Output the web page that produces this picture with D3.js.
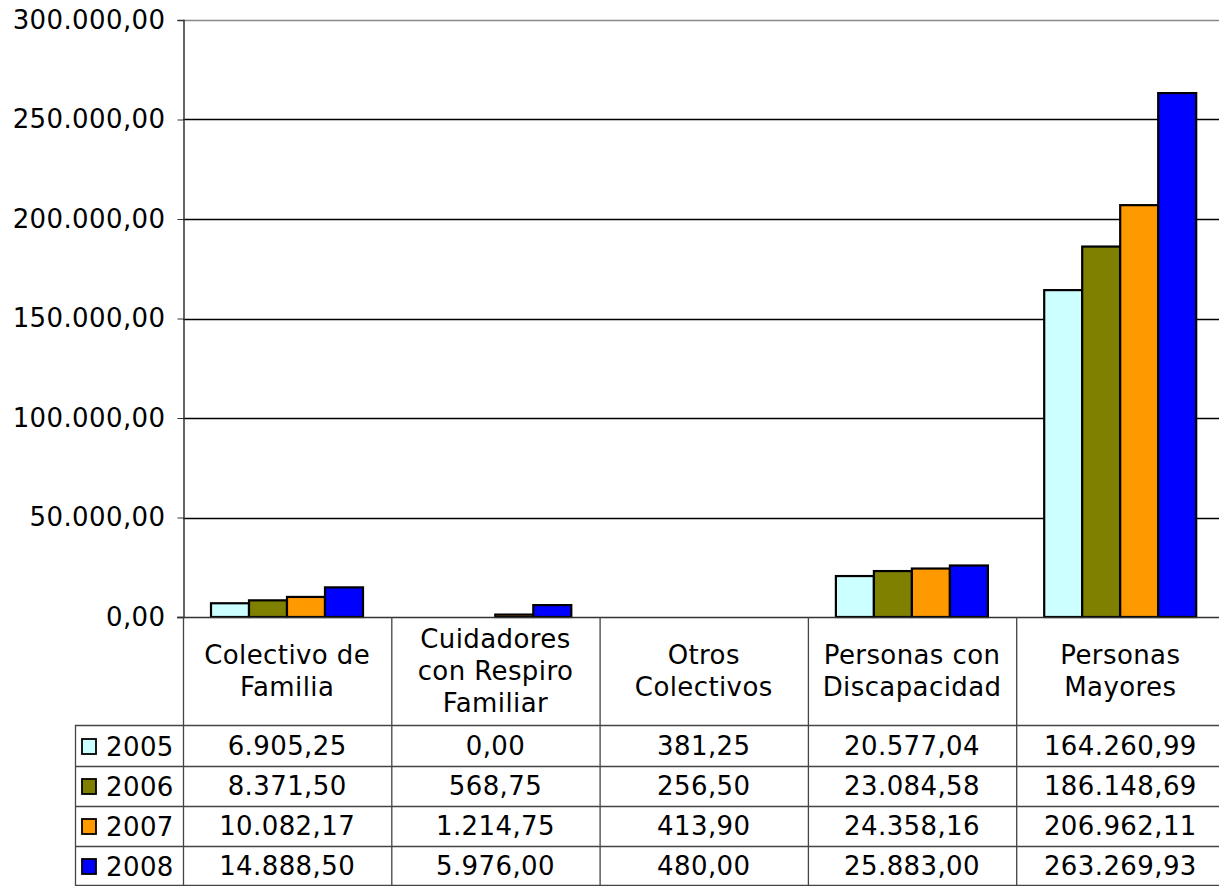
<!DOCTYPE html>
<html>
<head>
<meta charset="utf-8">
<script src="https://cdn.jsdelivr.net/npm/d3@7"></script>
<style>
  body { margin: 0; background: #fff; }
  svg { display: block; font-family: Verdana, "DejaVu Sans", sans-serif; }
  text { letter-spacing: 0.4px; }
</style>
</head>
<body>
<script>
// data
const categories = [
  ["Colectivo de", "Familia"],
  ["Cuidadores", "con Respiro", "Familiar"],
  ["Otros", "Colectivos"],
  ["Personas con", "Discapacidad"],
  ["Personas", "Mayores"]
];
const years = ["2005", "2006", "2007", "2008"];
const v2005 = [6905.25, 0.00, 381.25, 20577.04, 164260.99];
const v2006 = [8371.50, 568.75, 256.50, 23084.58, 186148.69];
const v2007 = [10082.17, 1214.75, 413.90, 24358.16, 206962.11];
const v2008 = [14888.50, 5976.00, 480.00, 25883.00, 263269.93];
const yTicks = [0, 50000, 100000, 150000, 200000, 250000, 300000];
const colors = ["#ccffff", "#808000", "#ff9900", "#0000ff"];

const series = [v2005, v2006, v2007, v2008];

const W = 1219, H = 886;
const pLeft = 183, pTop = 20, base = 617;
const bandW = 208.3;
const tableLeft = 75, headBottom = 725;
const fs = 26;

const es = d3.formatLocale({ decimal: ",", thousands: ".", grouping: [3], currency: ["", "€"] });
const fmt = es.format(",.2f");

const svg = d3.select("body").append("svg").attr("width", W).attr("height", H);

const catIdx = d3.range(categories.length);
const x0 = d3.scaleBand().domain(catIdx).range([pLeft, pLeft + bandW * categories.length]);
const x1 = d3.scaleBand().domain(years).range([28, 28 + 152]);
const y = d3.scaleLinear().domain([0, 300000]).range([base, pTop]);

// gridlines
svg.append("g").selectAll("line").data(yTicks.slice(1)).join("line")
  .attr("x1", pLeft).attr("x2", W)
  .attr("y1", d => Math.round(y(d)) + 0.5).attr("y2", d => Math.round(y(d)) + 0.5)
  .attr("stroke", d => d === 300000 ? "#888" : "#000").attr("stroke-width", 1.3);

// y axis
const yAxis = d3.axisLeft(y).tickValues(yTicks).tickSize(6).tickPadding(12).tickFormat(fmt);
const ga = svg.append("g").attr("transform", `translate(${pLeft + 0.5},0)`).call(yAxis);
ga.select(".domain").attr("stroke", "#333").attr("stroke-width", 1.5);
ga.selectAll(".tick line").attr("stroke", "#333");
ga.selectAll(".tick text").attr("font-size", fs).attr("fill", "#000")
  .attr("font-family", "Verdana, 'DejaVu Sans', sans-serif");

// bars (slivers thinner than a pixel and a half don't show in the original)
const groups = svg.append("g").selectAll("g").data(catIdx).join("g")
  .attr("transform", i => `translate(${x0(i)},0)`);
groups.selectAll("rect").data(i => years.map((yr, k) => ({ yr, k, v: series[k][i] }))).join("rect")
  .attr("x", d => x1(d.yr))
  .attr("width", x1.bandwidth())
  .attr("y", d => y(d.v))
  .attr("height", d => base - y(d.v))
  .attr("fill", d => colors[d.k])
  .attr("stroke", "#000").attr("stroke-width", 2.2)
  .attr("visibility", d => base - y(d.v) < 1.5 ? "hidden" : "visible");

// baseline
svg.append("line").attr("x1", pLeft - 6).attr("x2", W).attr("y1", base + 0.5).attr("y2", base + 0.5)
  .attr("stroke", "#333").attr("stroke-width", 1.5);

// data table
const rowY = d3.scaleBand().domain(years).range([headBottom + 1, H]);
const tbl = svg.append("g");
const lineCol = "#444";

// vertical separators
tbl.selectAll("line.v").data(d3.range(categories.length + 1)).join("line")
  .attr("class", "v")
  .attr("x1", i => pLeft + i * bandW + 0.5).attr("x2", i => pLeft + i * bandW + 0.5)
  .attr("y1", base).attr("y2", H)
  .attr("stroke", lineCol).attr("stroke-width", 1.3);
tbl.append("line").attr("x1", tableLeft + 0.5).attr("x2", tableLeft + 0.5)
  .attr("y1", headBottom).attr("y2", H).attr("stroke", lineCol).attr("stroke-width", 1.3);

// horizontal row lines
const hl = [headBottom, ...years.map(yr => rowY(yr) + rowY.bandwidth())];
tbl.selectAll("line.h").data(hl).join("line")
  .attr("class", "h")
  .attr("x1", tableLeft).attr("x2", W)
  .attr("y1", d => Math.min(Math.round(d), H - 1) + 0.5).attr("y2", d => Math.min(Math.round(d), H - 1) + 0.5)
  .attr("stroke", lineCol).attr("stroke-width", 1.3);

// category labels
const lh = 32;
svg.append("g").selectAll("text").data(catIdx).join("text")
  .attr("x", i => x0(i) + bandW / 2)
  .attr("text-anchor", "middle")
  .attr("font-size", fs)
  .each(function (i) {
    const lines = categories[i];
    const cy = (base + headBottom) / 2;
    const y0 = cy - (lines.length - 1) * lh / 2 + 9;
    d3.select(this).selectAll("tspan").data(lines).join("tspan")
      .attr("x", x0(i) + bandW / 2)
      .attr("y", (d, j) => y0 + j * lh)
      .text(d => d);
  });

// legend keys + values
const rows = svg.append("g").selectAll("g").data(years).join("g")
  .attr("transform", yr => `translate(0,${rowY(yr)})`);
rows.append("rect")
  .attr("x", 82).attr("y", rowY.bandwidth() / 2 - 7)
  .attr("width", 14).attr("height", 15)
  .attr("fill", (yr, k) => colors[k])
  .attr("stroke", "#000").attr("stroke-width", 1.8);
rows.append("text")
  .attr("x", 106).attr("y", rowY.bandwidth() / 2 + 10)
  .attr("font-size", fs).text(yr => yr);
rows.each(function (yr, k) {
  d3.select(this).selectAll("text.val").data(series[k]).join("text")
    .attr("class", "val")
    .attr("x", (d, i) => x0(i) + bandW / 2)
    .attr("y", rowY.bandwidth() / 2 + 9)
    .attr("text-anchor", "middle")
    .attr("font-size", fs)
    .text(d => fmt(d));
});
</script>
</body>
</html>
